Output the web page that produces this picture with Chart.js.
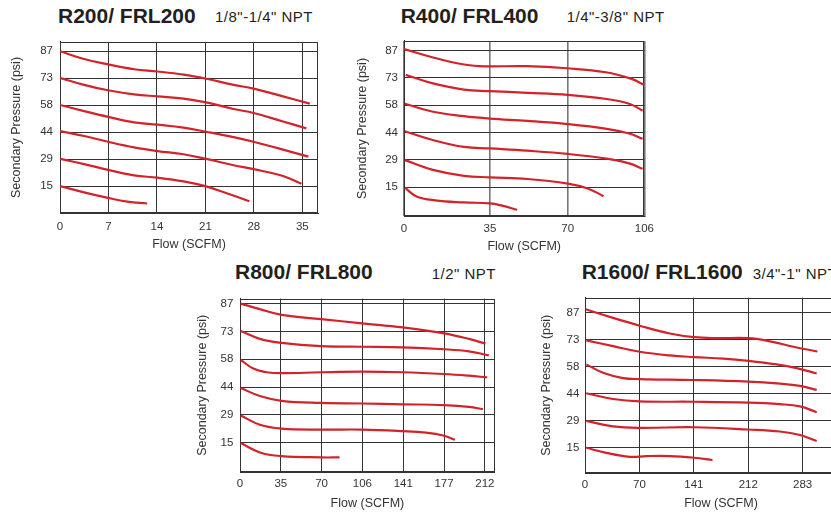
<!DOCTYPE html>
<html>
<head>
<meta charset="utf-8">
<title>Regulator flow curves</title>
<script src="https://cdn.jsdelivr.net/npm/chart.js"></script>
<style>
    html, body {
        margin: 0;
        padding: 0;
        background: #fff;
        overflow: hidden;
        width: 831px;
        height: 512px;
    }
    body {
        position: relative;
        font-family: 'Liberation Sans', Arial, sans-serif;
        color: #231f20;
    }
    .title {
        position: absolute;
        font-size: 21px;
        font-weight: bold;
        line-height: 1;
        white-space: nowrap;
    }
    .sub {
        position: absolute;
        font-size: 15px;
        line-height: 1;
        letter-spacing: 0.5px;
        white-space: nowrap;
    }
    canvas { position: absolute; }
</style>
</head>
<body>
    <div class="title" style="left:58px;top:5px">R200/ FRL200</div>
    <div class="sub" style="left:215px;top:8.6px">1/8"-1/4" NPT</div>
    <div class="title" style="left:400.7px;top:5px">R400/ FRL400</div>
    <div class="sub" style="left:566.7px;top:8.6px">1/4"-3/8" NPT</div>
    <div class="title" style="left:235px;top:261.2px">R800/ FRL800</div>
    <div class="sub" style="left:431.7px;top:265.6px">1/2" NPT</div>
    <div class="title" style="left:581.7px;top:261.2px">R1600/ FRL1600</div>
    <div class="sub" style="left:752.7px;top:265.6px">3/4"-1" NPT</div>

    <canvas id="c200" width="322" height="224" style="left:0px;top:28px"></canvas>
    <canvas id="c400" width="310" height="226" style="left:350px;top:28px"></canvas>
    <canvas id="c800" width="310" height="226" style="left:190px;top:285px"></canvas>
    <canvas id="c1600" width="326" height="226" style="left:535px;top:285px"></canvas>

<script>
    // pressure axis is the same on all four charts (1 bar steps, shown in psi)
    const pressureTicks = [14.5, 29, 43.5, 58, 72.5, 87];
    const pressureLabels = ['15', '29', '44', '58', '73', '87'];

    // R200 / FRL200
    const r200FlowTicks = [0, 7.06, 14.12, 21.19, 28.25, 35.31];
    const r200FlowLabels = ['0', '7', '14', '21', '28', '35'];
    const r200Flow = [
        [0, 3.5, 7, 10.8, 14.2, 18, 21.3, 25.3, 28.2, 32.5, 36.4],
        [0, 3.5, 7, 10.8, 14.2, 18, 21.3, 25.3, 28.2, 32.5, 35.9],
        [0, 3.5, 7, 10.8, 14.2, 18, 21.3, 25.3, 28.2, 32.5, 36.2],
        [0, 3.5, 7, 10.8, 14.2, 18, 21.3, 25.3, 28.2, 32.5, 35.2],
        [0, 3.5, 7, 10.8, 14.2, 18, 21.3, 24.3, 27.6],
        [0, 3.5, 7, 9.8, 12.7]
    ];
    const r200Pressure = [
        [87, 82.8, 79.9, 77.3, 76.1, 74.4, 72.2, 68.9, 66.9, 62.7, 58.8],
        [72.7, 68.9, 66, 63.8, 62.7, 61.5, 59.5, 55.9, 53.8, 49.2, 45.5],
        [58.1, 54.8, 51.7, 48.7, 47.5, 45.9, 43.7, 40.8, 38.3, 34.1, 30.3],
        [44, 41.4, 38.3, 35.3, 33.3, 31.6, 29.1, 25.7, 23.6, 19.9, 15.7],
        [29.1, 26.3, 23.2, 20.2, 19, 17, 14.3, 10.6, 6.3],
        [14.5, 11.1, 8.1, 6.1, 5.1]
    ];

    // R400 / FRL400 (grid lines are not evenly spaced in the original)
    const r400FlowTicks = [0, 37.9, 72.2, 106];
    const r400FlowLabels = ['0', '35', '70', '106'];
    const r400Flow = [
        [0, 12, 24, 33, 54, 72, 89, 100, 106],
        [0.8, 12.3, 26.4, 37.9, 54.4, 72.2, 89.4, 99.3, 105.2],
        [0.4, 12.3, 26.4, 37.9, 54.4, 72.2, 89.4, 99.3, 105.2],
        [0.4, 12.3, 26.4, 37.9, 54.4, 72.2, 89.4, 99.3, 105.2],
        [0.4, 12.3, 26.4, 37.9, 54.4, 72.2, 81, 88],
        [0.4, 5.3, 13.7, 26.4, 37.9, 43.2, 49.9]
    ];
    const r400Pressure = [
        [87.7, 83.5, 80, 78.6, 78.6, 77.5, 75.4, 72, 68.7],
        [74, 69.6, 66.2, 65.4, 64.5, 63.4, 61.2, 58.7, 55],
        [58.7, 54.6, 52.1, 50.8, 49.6, 47.9, 45.4, 42.9, 40.1],
        [44.1, 39.6, 35.8, 35, 33.8, 32.1, 29.6, 27.1, 24.2],
        [28.8, 23.8, 20.5, 19.7, 18.8, 16.4, 13.8, 9.7],
        [14.2, 9.7, 7.5, 6.4, 5.9, 4.7, 2.5]
    ];

    // R800 / FRL800
    const r800FlowTicks = [0, 35.31, 70.62, 105.93, 141.24, 176.55, 211.86];
    const r800FlowLabels = ['0', '35', '70', '106', '141', '177', '212'];
    const r800Flow = [
        [0.6, 17.2, 35.9, 70.3, 105.7, 140.7, 176.6, 198.1, 212.5],
        [0.6, 17.2, 35.9, 70.3, 105.7, 140.7, 176.6, 198.1, 215.3],
        [0.6, 11.5, 23, 35.9, 70.3, 105.7, 140.7, 176.6, 198.1, 213.9],
        [0.6, 17.2, 35.9, 70.3, 105.7, 140.7, 176.6, 198.1, 210.2],
        [0.6, 17.2, 35.9, 70.3, 105.7, 140.7, 160.8, 176.6, 186],
        [0.6, 17.2, 35.9, 70.3, 86.1]
    ];
    const r800Pressure = [
        [87, 84.1, 81.1, 78.9, 76.7, 74.6, 71.5, 68.6, 66.1],
        [72.7, 68.6, 66.5, 64.8, 64.5, 64.2, 63.2, 62.1, 60],
        [57.7, 53.1, 51.2, 50.7, 51.2, 51.5, 51.2, 50.3, 49.4, 48.5],
        [43, 38.8, 36.3, 35.2, 34.9, 34.5, 34.1, 33.2, 31.9],
        [28.7, 23.8, 21.8, 21.3, 21.3, 20.5, 19.7, 18.1, 16],
        [14.3, 9.4, 7.5, 6.8, 6.8]
    ];

    // R1600 / FRL1600
    const r1600FlowTicks = [0, 70.62, 141.24, 211.86, 282.48];
    const r1600FlowLabels = ['0', '70', '141', '212', '283'];
    const r1600Flow = [
        [0.9, 36.4, 71.1, 110.1, 141.7, 170.7, 212.3, 240, 270.4, 301.6],
        [1.7, 36.4, 71.1, 110.1, 141.7, 179.4, 212.3, 248.7, 274.7, 300.7],
        [1.7, 23.4, 49.4, 71.1, 141.7, 212.3, 253, 279, 300.7],
        [1.7, 36.4, 71.1, 141.7, 212.3, 253, 279, 300.7],
        [1.7, 36.4, 71.1, 141.7, 212.3, 253, 279, 300.7],
        [1.7, 27.7, 58.1, 79.7, 110.1, 141.7, 165.5]
    ];
    const r1600Pressure = [
        [88.7, 84.1, 79.9, 75.7, 73.7, 73.2, 73.2, 71.5, 68.6, 66],
        [72, 68.9, 65.9, 63.9, 63, 62.2, 61, 59.1, 57.1, 54.2],
        [59.1, 54.6, 51.7, 51.2, 50.7, 49.8, 48.7, 47.5, 45.4],
        [43.6, 40.5, 39.2, 39, 38.5, 37.7, 36.5, 33.4],
        [28.7, 25.8, 25, 25.3, 24.1, 23, 21.1, 17.9],
        [14.3, 11.5, 9.4, 9.8, 9.8, 8.9, 7.7]
    ];

    Chart.defaults.font.family = "'Liberation Sans', Arial, sans-serif";

    // box around the plot area (top and right edges)
    const framePlugin = {
        id: 'frame',
        beforeDatasetsDraw(chart) {
            const { ctx, chartArea: a } = chart;
            ctx.save();
            ctx.strokeStyle = '#333';
            ctx.lineWidth = 1;
            const l = Math.round(a.left) + 0.5, t = Math.round(a.top) + 0.5;
            const r = Math.round(a.right) - 0.5, b = Math.round(a.bottom) - 0.5;
            ctx.strokeRect(l, t, r - l, b - t);
            ctx.restore();
        }
    };

    function makeChart(id, flow, pressure, xTicks, xLabels, o) {
        const datasets = flow.map((xs, k) => ({
            data: xs.map((x, i) => ({ x: x, y: pressure[k][i] })),
            borderColor: '#d2232a',
            borderWidth: 2.2,
            pointRadius: 0,
            fill: false,
            tension: 0.4
        }));

        return new Chart(document.getElementById(id), {
            type: 'line',
            data: { datasets: datasets },
            options: {
                responsive: false,
                animation: false,
                layout: { padding: { top: 2, right: 4, left: 0, bottom: 0 } },
                plugins: { legend: { display: false }, tooltip: { enabled: false } },
                scales: {
                    x: {
                        type: 'linear',
                        min: 0,
                        max: o.xMax,
                        afterBuildTicks: s => { s.ticks = xTicks.map(v => ({ value: v })); },
                        afterFit: s => { s.height = o.xAxisH; },
                        ticks: {
                            autoSkip: false,
                            maxRotation: 0,
                            padding: o.xTickPad,
                            color: '#333',
                            font: { size: 11.5 },
                            callback: (v, i) => xLabels[i]
                        },
                        grid: { color: o.xGrid || '#333', lineWidth: o.xGridW || 1, drawTicks: false },
                        border: { color: '#333' },
                        title: {
                            display: true,
                            text: 'Flow (SCFM)',
                            color: '#333',
                            font: { size: 12.5 },
                            padding: { top: 0, bottom: 0 }
                        }
                    },
                    y: {
                        type: 'linear',
                        min: o.yMin,
                        max: o.yMax,
                        afterBuildTicks: s => { s.ticks = pressureTicks.map(v => ({ value: v })); },
                        afterFit: s => { s.width = o.yAxisW; },
                        ticks: {
                            padding: o.yTickPad,
                            color: '#333',
                            font: { size: 11.5 },
                            callback: (v, i) => pressureLabels[i]
                        },
                        grid: { color: '#333', drawTicks: false },
                        border: { color: '#333' },
                        title: {
                            display: true,
                            text: 'Secondary Pressure (psi)',
                            color: '#333',
                            font: { size: 12.5 },
                            padding: { top: o.yTitlePad, bottom: 0 }
                        }
                    }
                }
            },
            plugins: [framePlugin]
        });
    }

    makeChart('c200', r200Flow, r200Pressure, r200FlowTicks, r200FlowLabels, {
        xMax: 37.6, yMin: 0, yMax: 92, yAxisW: 60, xAxisH: 39,
        yTickPad: 7, xTickPad: 7, yTitlePad: 9.5
    });
    makeChart('c400', r400Flow, r400Pressure, r400FlowTicks, r400FlowLabels, {
        xMax: 106, yMin: -0.8, yMax: 92, yAxisW: 54, xAxisH: 38,
        yTickPad: 6, xTickPad: 6, yTitlePad: 5.2, xGrid: '#777', xGridW: 1.6
    });
    makeChart('c800', r800Flow, r800Pressure, r800FlowTicks, r800FlowLabels, {
        xMax: 220.5, yMin: -0.8, yMax: 89.6, yAxisW: 50, xAxisH: 39,
        yTickPad: 6.7, xTickPad: 5.4, yTitlePad: 5.2
    });
    makeChart('c1600', r1600Flow, r1600Pressure, r1600FlowTicks, r1600FlowLabels, {
        xMax: 353, yMin: 0.7, yMax: 95, yAxisW: 50, xAxisH: 38,
        yTickPad: 5.7, xTickPad: 5.1, yTitlePad: 4.2
    });
</script>
</body>
</html>
